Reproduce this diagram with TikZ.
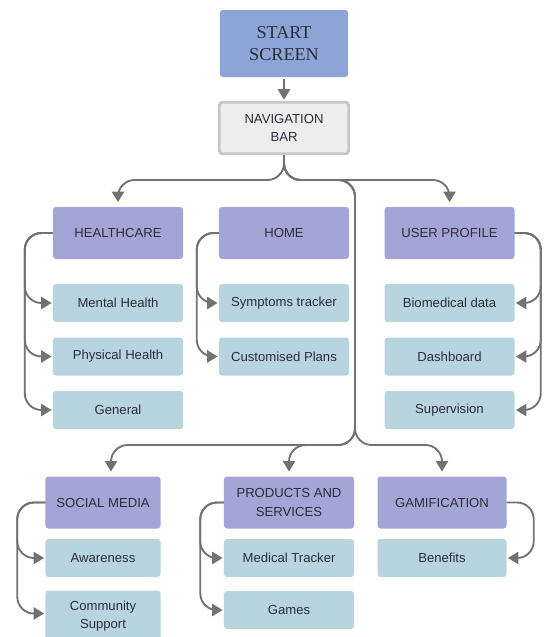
\documentclass[tikz,border=0pt]{standalone}
\usepackage{fontspec}
\setmainfont{Liberation Sans}
\newfontfamily\ttlfont{Liberation Serif}
\usetikzlibrary{arrows.meta,calc}
\definecolor{cstart}{RGB}{140,165,214}
\definecolor{chead}{RGB}{164,165,215}
\definecolor{cleaf}{RGB}{183,212,223}
\definecolor{cnav}{RGB}{237,237,237}
\definecolor{cnavb}{RGB}{198,198,198}
\definecolor{cline}{RGB}{114,114,114}
\definecolor{ctxt}{RGB}{45,45,56}
\tikzset{
  box/.style={rounded corners=2.5pt, align=center, text=ctxt, inner sep=2pt,
      font=\fontsize{11.2}{15.5}\selectfont},
  sbox/.style={box, fill=cstart, minimum width=3.84cm, minimum height=2.01cm,
      font=\ttlfont\fontsize{15.5}{18.7}\selectfont},
  nbox/.style={box, fill=cnav, draw=cnavb, line width=2.4pt, minimum width=3.88cm, minimum height=1.54cm},
  hbox/.style={box, fill=chead, minimum width=3.9cm, minimum height=1.56cm},
  lbox/.style={box, fill=cleaf, minimum width=3.9cm, minimum height=1.14cm},
  conn/.style={cline, line width=1.6pt, rounded corners=5mm, shorten >=1pt,
      -{Triangle[length=9pt,width=10.5pt]}},
  dconn/.style={conn, shorten >=4pt},
}
\begin{document}
\begin{tikzpicture}[x=0.03cm, y=-0.03cm]
 \useasboundingbox (0,0) rectangle (547,637);
 % top
 \node[sbox] (start) at (284,43.5) {START\\SCREEN};
 \node[nbox] (nav) at (284,128) {NAVIGATION\\BAR};
 % first row
 \node[hbox] (hc) at (118,233) {HEALTHCARE};
 \node[hbox] (home) at (284,233) {HOME};
 \node[hbox] (up) at (449.5,233) {USER PROFILE};
 \node[lbox] (mh) at (118,303) {Mental Health};
 \node[lbox] (ph) at (118,356.5) {Physical Health};
 \node[lbox] (gen) at (118,410) {General};
 \node[lbox] (st) at (284,303) {Symptoms tracker};
 \node[lbox] (cp) at (284,356.5) {Customised Plans};
 \node[lbox] (bd) at (449.5,303) {Biomedical data};
 \node[lbox] (db) at (449.5,356.5) {Dashboard};
 \node[lbox] (sv) at (449.5,410) {Supervision};
 % second row
 \node[hbox, minimum width=3.45cm] (sm) at (103,502.5) {SOCIAL MEDIA};
 \node[hbox] (ps) at (289,502.5) {PRODUCTS AND\\SERVICES};
 \node[hbox, minimum width=3.87cm] (gm) at (442,502.5) {GAMIFICATION};
 \node[lbox, minimum width=3.45cm] (aw) at (103,558) {Awareness};
 \node[lbox, minimum width=3.45cm, minimum height=1.56cm] (cs) at (103,616.5) {Community\\Support};
 \node[lbox] (mt) at (289,558) {Medical Tracker};
 \node[lbox] (gs) at (289,610) {Games};
 \node[lbox, minimum width=3.87cm] (bn) at (442,558) {Benefits};

 \coordinate (split) at (284,180);
 \coordinate (split2) at (355,445);
 \draw[conn] ($(start.south)+(0,2)$) -- (nav.north);
 \draw[dconn] (nav.south) -- (split) -| (hc.north);
 \draw[dconn] (nav.south) -- (split) -| (up.north);
 \draw[dconn] (nav.south) -- (split) -| (split2) -| ($(sm.north)+(8,0)$);
 \draw[dconn] (nav.south) -- (split) -| (split2) -| (ps.north);
 \draw[dconn] (nav.south) -- (split) -| (split2) -| (gm.north);
 % side brackets
 \foreach \n in {mh,ph,gen}
   \draw[conn] (hc.west) -- ++(-28,0) |- (\n.west);
 \foreach \n in {st,cp}
   \draw[conn] (home.west) -- ++(-22,0) |- (\n.west);
 \foreach \n in {bd,db,sv}
   \draw[conn] (up.east) -- ++(26,0) |- (\n.east);
 \draw[conn] (sm.west) -- ++(-28,0) |- (aw.west);
 \draw[conn] (sm.west) -- ++(-28,0) |- ($(cs.west)+(0,-3)$);
 \foreach \n in {mt,gs}
   \draw[conn] (ps.west) -- ++(-23.5,0) |- (\n.west);
 \draw[conn] (gm.east) -- ++(27,0) |- (bn.east);
\end{tikzpicture}
\end{document}
